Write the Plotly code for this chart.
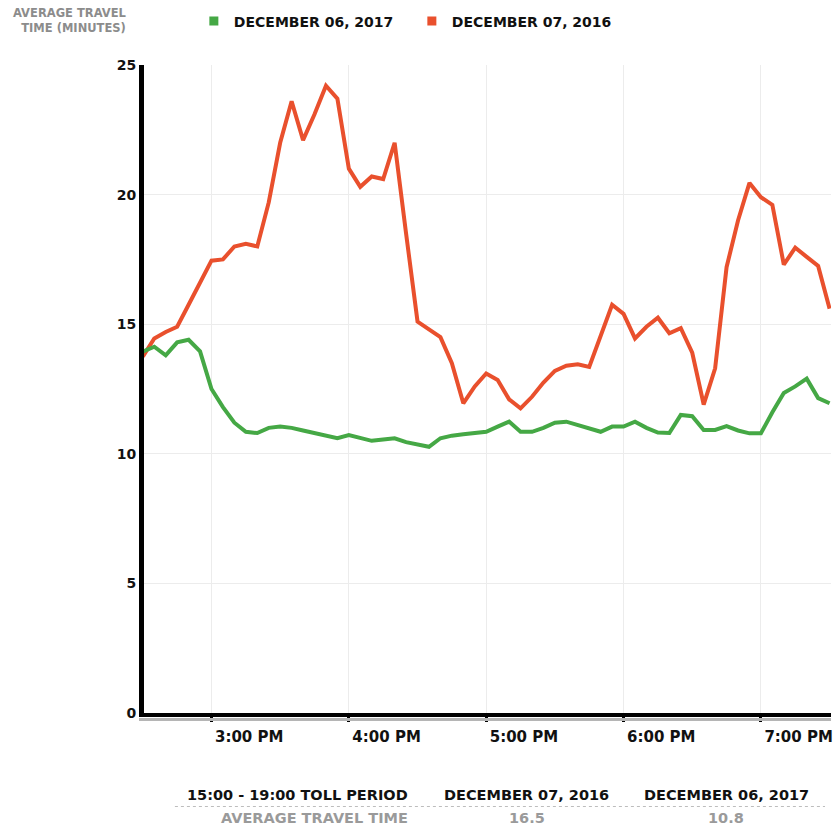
import pandas as pd
import plotly.graph_objects as go

# ---------------- data ----------------
times = pd.date_range("2017-12-06 14:30", "2017-12-06 19:30", freq="5min")

travel_2016 = [13.75, 14.45, 14.7, 14.9, 15.75, 16.6,
               17.45, 17.5, 18.0, 18.1, 18.0, 19.7, 22.0, 23.6, 22.1, 23.1, 24.2, 23.7,
               21.0, 20.3, 20.7, 20.6, 22.0, 18.5, 15.1, 14.8, 14.5, 13.5, 11.95, 12.6,
               13.1, 12.85, 12.1, 11.75, 12.2, 12.75, 13.2, 13.4, 13.45, 13.35, 14.6, 15.75,
               15.4, 14.45, 14.9, 15.25, 14.65, 14.85, 13.9, 11.9, 13.3, 17.2, 19.0, 20.45,
               19.9, 19.6, 17.3, 17.95, 17.6, 17.25, 15.6]

travel_2017 = [13.94, 14.13, 13.8, 14.3, 14.4, 13.95,
               12.5, 11.8, 11.2, 10.85, 10.8, 11.0, 11.05, 11.0, 10.9, 10.8, 10.7, 10.6,
               10.72, 10.62, 10.5, 10.55, 10.6, 10.45, 10.35, 10.27, 10.6, 10.7, 10.75, 10.8,
               10.85, 11.05, 11.24, 10.85, 10.85, 11.0, 11.2, 11.24, 11.1, 10.95, 10.85, 11.05,
               11.05, 11.24, 11.0, 10.82, 10.8, 11.5, 11.45, 10.92, 10.92, 11.07, 10.9, 10.79,
               10.79, 11.6, 12.35, 12.6, 12.9, 12.15, 11.95]

series_names = ["DECEMBER 06, 2017", "DECEMBER 07, 2016"]
series_colors = ["#45a845", "#e9502d"]

y_ticks = [0, 5, 10, 15, 20, 25]

table_header = ["15:00 - 19:00 TOLL PERIOD", "DECEMBER 07, 2016", "DECEMBER 06, 2017"]
table_row = ["AVERAGE TRAVEL TIME", "16.5", "10.8"]

FONT = "DejaVu Sans"

# ---------------- figure ----------------
fig = go.Figure()

series_values = [travel_2017, travel_2016]
for name, vals, col in reversed(list(zip(series_names, series_values, series_colors))):
    fig.add_trace(go.Scatter(x=times, y=vals, mode="lines", name=name,
                             line=dict(color=col, width=4), showlegend=False,
                             legendgroup=name))
for name, col in zip(series_names, series_colors):
    fig.add_trace(go.Scatter(x=[None], y=[None], mode="markers", name=name,
                             marker=dict(symbol="square", size=9, color=col),
                             legendgroup=name, showlegend=True))

W, H = 833, 828
L, R, T, B = 144, 0, 65, 115
pw, ph = W - L - R, H - T - B


def px_x(x):
    return (x - L) / pw


def px_y(y):
    return (H - B - y) / ph


fig.update_layout(
    width=W, height=H,
    margin=dict(l=L, r=R, t=T, b=B, pad=0),
    paper_bgcolor="white", plot_bgcolor="white",
    font=dict(family=FONT, color="#111111", size=14, weight="bold"),
    legend=dict(orientation="h", x=px_x(194), xanchor="left", y=px_y(21.5), yanchor="middle",
                font=dict(size=14, weight="bold", color="#111111"),
                entrywidth=173, itemclick=False, tracegroupgap=0,
                bgcolor="rgba(0,0,0,0)"),
    xaxis=dict(
        range=["2017-12-06 14:30:31", "2017-12-06 19:30:37"],
        tick0="2017-12-06 15:00", dtick=3600000, tickformat="%-I:%M %p",
        showgrid=True, gridcolor="#ececec", gridwidth=1,
        showline=True, linecolor="black", linewidth=4,
        ticks="outside", ticklen=5, tickwidth=3, tickcolor="black",
        ticklabelposition="outside right", ticklabelstandoff=7,
        ticklabeloverflow="allow",
        tickfont=dict(size=15, weight="bold", color="#111111"),
        zeroline=False, fixedrange=True,
    ),
    yaxis=dict(
        range=[0, 25], tickvals=y_ticks,
        showgrid=True, gridcolor="#ececec", gridwidth=1,
        showline=True, linecolor="black", linewidth=5,
        ticks="", tickfont=dict(size=14, weight="bold", color="#111111"),
        zeroline=False, fixedrange=True,
    ),
    showlegend=True,
)

# shadow under x axis
fig.add_shape(type="line", xref="paper", yref="paper", x0=px_x(139), x1=1,
              y0=px_y(719.5), y1=px_y(719.5), line=dict(color="#b5b5b5", width=3))

# y-axis title
fig.add_annotation(xref="paper", yref="paper", x=px_x(129), y=px_y(20.5), xanchor="right",
                   yanchor="middle", align="right", showarrow=False,
                   text="AVERAGE TRAVEL<br>TIME (MINUTES)",
                   font=dict(size=11.5, color="#8c8c8c", weight="bold"))

# summary table
col_x = [px_x(411), px_x(528), px_x(728)]
col_anchor = ["right", "center", "center"]
for txt, cx, an in zip(table_header, col_x, col_anchor):
    fig.add_annotation(xref="paper", yref="paper", x=cx, y=px_y(795), xanchor=an,
                       yanchor="middle", showarrow=False, text=txt,
                       font=dict(size=14.5, color="#111111", weight="bold"))
for txt, cx, an in zip(table_row, col_x, col_anchor):
    fig.add_annotation(xref="paper", yref="paper", x=cx, y=px_y(818.5), xanchor=an,
                       yanchor="middle", showarrow=False, text=txt,
                       font=dict(size=14.5, color="#9a9a9a", weight="bold"))
fig.add_shape(type="line", xref="paper", yref="paper", x0=px_x(175), x1=px_x(827),
              y0=px_y(806.5), y1=px_y(806.5), line=dict(color="#bdbdbd", width=1, dash="dot"))

fig.write_html(
    "out.html",
    config={"displayModeBar": False},
    post_script="document.body.style.margin='0';document.body.style.overflow='hidden';",
)
